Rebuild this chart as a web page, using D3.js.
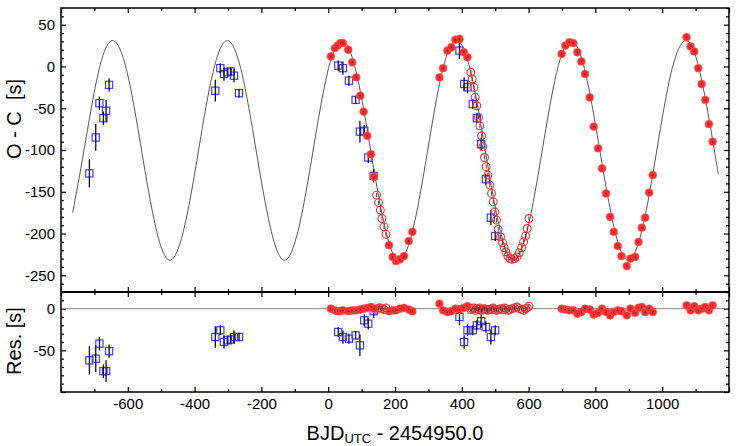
<!DOCTYPE html>
<html>
<head>
<meta charset="UTF-8">
<title>O - C</title>
<script src="https://d3js.org/d3.v7.min.js"></script>
<style>
  * { margin: 0; padding: 0; }
  body { background: #fff; width: 736px; height: 446px; overflow: hidden; }
  text { font-family: 'Liberation Sans', Arial, sans-serif; fill: #000; }
  .tick line { stroke: #000; stroke-width: 1.2; }
  .tick text { font-size: 15px; }
</style>
</head>
<body>
<svg id="chart" width="736" height="446"></svg>
<script>
// 模型曲线
const modelX = [-765, -731, -688, -645, -602, -559, -516, -474, -431, -388, -345, -302, -259, -216, -173, -131, -88, -45, -2, 41,
  84, 127, 170, 212, 255, 298, 341, 384, 427, 470, 513, 555, 598, 641, 684, 727, 770, 813, 856, 898, 941, 984, 1027, 1070, 1113, 1156, 1168];
const modelY = [-175, -100, -7, 31, -7, -100, -193, -232, -193, -100, -7, 31, -7, -100, -193, -232, -193, -100, -7, 31,
  -7, -100, -193, -232, -193, -100, -7, 31, -7, -100, -193, -232, -193, -100, -7, 31, -7, -100, -193, -232, -193, -100, -7, 31, -7, -100, -129];

// 红色实心点
const filledX = [8, 20, 28, 36, 44, 60, 72, 84, 96, 106, 117, 128, 137,
  182, 193, 203, 215, 227, 241, 252,
  333, 344, 357, 369, 381, 393, 406, 417,
  699, 710, 722, 734, 746, 758, 769, 783, 795, 808, 820, 832, 844, 855, 867, 878, 894, 905, 919, 929, 939, 949, 961, 972,
  1073, 1085, 1096, 1108, 1118, 1129, 1140, 1151];
const filledY = [12, 22, 25, 28, 28, 20, 5, -13, -35, -54, -83, -105, -132,
  -214, -228, -233, -231, -227, -209, -198,
  -13, -2, 19, 23, 32, 33, 17, 11,
  15, 25, 29, 28, 17, 6, -9, -37, -72, -98, -122, -152, -180, -198, -215, -227, -239, -230, -228, -210, -193, -181, -151, -130,
  35, 24, 18, -2, -21, -40, -69, -90];
const filledRes = [0, -2, -3, -3, -2, -3, -2, -2, -1, 0, 1, 2, 0,
  -3, -2, -2, 0, 1, -1, -3,
  6, -2, -4, -3, 0, -1, 1, 3,
  0, -1, -2, -2, -6, -4, 0, -1, -7, -5, 0, -4, -8, -4, -2, -3, -8, 0, -5, 1, 2, -4, 0, -4,
  4, -2, 3, -2, 0, 2, -2, 4];

// 红色空心点
const openX = [145, 151, 156, 161, 167, 173,
  427, 431, 436, 440, 445, 450, 454, 459, 463, 468, 473, 478, 484, 489, 494, 499, 504, 509, 516, 522, 527, 532, 538, 544, 551, 558, 565, 572, 579, 585, 591, 596, 601];
const openY = [-154, -163, -172, -182, -192, -201,
  -7, -15, -25, -37, -47, -61, -71, -83, -96, -109, -120, -130, -142, -152, -162, -174, -184, -195, -204, -211, -217, -222, -227, -230, -231, -230, -228, -223, -217, -210, -203, -194, -182];
const openRes = [-1, 1, 1, 0, -1, 1,
  -1, 0, 1, -2, 0, -1, 1, -2, -1, 0, -1, -2, -1, 0, 1, -1, -2, -1, 0, -1, 1, 0, -2, -1, 0, 1, 2, 0, -1, -2, 0, 1, 3];

// 蓝色方块 + 误差棒
const blueX = [-715, -696, -685, -673, -665, -656, -338, -323, -312, -301, -292, -282, -267,
  30, 44, 62, 82, 95, 108, 120, 136, 393, 407, 417, 433, 445, 458, 472, 487, 500];
const blueY = [-128, -85, -44, -62, -53, -22, -29, -2, -9, -7, -6, -11, -32,
  1, -2, -17, -40, -78, -77, -109, -131, 19, -21, -25, -45, -62, -93, -135, -181, -203];
const blueErr = [17, 16, 8, 8, 13, 8, 13, 6, 8, 5, 5, 8, 5,
  6, 8, 6, 5, 13, 7, 7, 8, 10, 8, 7, 6, 6, 8, 7, 9, 6];
const blueRes = [-62, -60, -42, -75, -75, -51, -34, -26, -40, -38, -37, -34, -34,
  -28, -34, -36, -32, -44, -14, -18, -3, -10, -40, -26, -26, -20, -15, -22, -34, -26];

// 刻度
const xMajor = [-800, -600, -400, -200, 0, 200, 400, 600, 800, 1000, 1200];
const xMinor = [-700, -500, -300, -100, 100, 300, 500, 700, 900, 1100];
const xLabels = [-600, -400, -200, 0, 200, 400, 600, 800, 1000];
const yTopLabels = [50, 0, -50, -100, -150, -200, -250];
const yResLabels = [0, -50];

const svg = d3.select('#chart');
const L = 61, R = 729, T = 8, M = 292, B = 392;

const x = d3.scaleLinear().domain([-800, 1200]).range([L, R]);
const yTop = d3.scaleLinear().domain([-270, 70]).range([M, T]);
const yRes = d3.scaleLinear().domain([-100, 20]).range([B, M]);

const red = '#ff2a2a';
const blue = '#3d3dff';

function minorTicks(lo, hi, step, skip) {
  const out = [];
  for (let v = lo; v <= hi; v += step) if (v % skip !== 0) out.push(v);
  return out;
}

// 坐标轴
function drawAxes(y, top, bottom, yMajorVals, yLabelVals, xLabelsOn) {
  const dom = y.domain();
  const yMinorVals = minorTicks(Math.ceil(dom[0] / 10) * 10, dom[1], 10, 50);
  const strip = g => g.select('.domain').remove();

  const fmtX = d => xLabelsOn && xLabels.includes(d) ? d : '';
  svg.append('g').attr('transform', `translate(0,${bottom})`)
    .call(d3.axisBottom(x).tickValues(xMajor).tickSize(-5).tickPadding(6).tickFormat(fmtX)).call(strip);
  svg.append('g').attr('transform', `translate(0,${bottom})`)
    .call(d3.axisBottom(x).tickValues(xMinor).tickSize(-3).tickFormat('')).call(strip);
  svg.append('g').attr('transform', `translate(0,${top})`)
    .call(d3.axisTop(x).tickValues(xMajor).tickSize(-5).tickFormat('')).call(strip);
  svg.append('g').attr('transform', `translate(0,${top})`)
    .call(d3.axisTop(x).tickValues(xMinor).tickSize(-3).tickFormat('')).call(strip);

  svg.append('g').attr('transform', `translate(${L},0)`)
    .call(d3.axisLeft(y).tickValues(yMajorVals).tickSize(-5).tickPadding(6)
      .tickFormat(d => yLabelVals.includes(d) ? d : '')).call(strip);
  svg.append('g').attr('transform', `translate(${L},0)`)
    .call(d3.axisLeft(y).tickValues(yMinorVals).tickSize(-3).tickFormat('')).call(strip);
  svg.append('g').attr('transform', `translate(${R},0)`)
    .call(d3.axisRight(y).tickValues(yMajorVals).tickSize(-5).tickFormat('')).call(strip);
  svg.append('g').attr('transform', `translate(${R},0)`)
    .call(d3.axisRight(y).tickValues(yMinorVals).tickSize(-3).tickFormat('')).call(strip);
}

drawAxes(yTop, T, M, [50, 0, -50, -100, -150, -200, -250], yTopLabels, false);
drawAxes(yRes, M, B, [0, -50, -100], yResLabels, true);

// 数据点
function drawPoints(g, y, useRes) {
  const blues = blueX.map((v, i) => ({ x: v, y: useRes ? blueRes[i] : blueY[i], e: blueErr[i] }));
  const opens = openX.map((v, i) => ({ x: v, y: useRes ? openRes[i] : openY[i] }));
  const filled = filledX.map((v, i) => ({ x: v, y: useRes ? filledRes[i] : filledY[i] }));

  g.selectAll('rect.b').data(blues).enter().append('rect')
    .attr('x', d => x(d.x) - 3.6).attr('y', d => y(d.y) - 3.6)
    .attr('width', 7.2).attr('height', 7.2)
    .attr('fill', 'none').attr('stroke', blue).attr('stroke-width', 1.2);
  g.selectAll('line.be').data(blues).enter().append('line')
    .attr('x1', d => x(d.x)).attr('x2', d => x(d.x))
    .attr('y1', d => y(d.y - d.e)).attr('y2', d => y(d.y + d.e))
    .attr('stroke', '#111').attr('stroke-width', 1.3);

  g.selectAll('circle.o').data(opens).enter().append('circle')
    .attr('cx', d => x(d.x)).attr('cy', d => y(d.y)).attr('r', 3.9)
    .attr('fill', 'none').attr('stroke', red).attr('stroke-width', 1.1);
  g.selectAll('line.oe').data(opens).enter().append('line')
    .attr('x1', d => x(d.x)).attr('x2', d => x(d.x))
    .attr('y1', d => y(d.y - 2.5)).attr('y2', d => y(d.y + 2.5))
    .attr('stroke', '#333').attr('stroke-width', 0.9);

  g.selectAll('circle.f').data(filled).enter().append('circle')
    .attr('cx', d => x(d.x)).attr('cy', d => y(d.y)).attr('r', 3.9)
    .attr('fill', red).attr('stroke', '#ff5a5a').attr('stroke-width', 0.6);
  g.selectAll('circle.fe').data(filled).enter().append('circle')
    .attr('cx', d => x(d.x)).attr('cy', d => y(d.y)).attr('r', 0.7)
    .attr('fill', '#222');
}

// 上图: 模型曲线
const line = d3.line().x((d, i) => x(modelX[i])).y(d => yTop(d)).curve(d3.curveNatural);
svg.append('path').attr('d', line(modelY))
  .attr('fill', 'none').attr('stroke', '#444').attr('stroke-width', 0.9);

drawPoints(svg.append('g'), yTop, false);

// 下图: 残差零线
svg.append('line').attr('x1', L).attr('x2', R).attr('y1', yRes(0)).attr('y2', yRes(0))
  .attr('stroke', '#888').attr('stroke-width', 1);
drawPoints(svg.append('g'), yRes, true);

// 边框
svg.append('rect').attr('x', L).attr('y', T).attr('width', R - L).attr('height', B - T)
  .attr('fill', 'none').attr('stroke', '#000').attr('stroke-width', 1.5);
svg.append('line').attr('x1', L).attr('x2', R).attr('y1', M).attr('y2', M)
  .attr('stroke', '#000').attr('stroke-width', 2.2);

// 轴标题
svg.append('text').attr('transform', 'translate(21,119) rotate(-90)')
  .attr('text-anchor', 'middle').attr('font-size', 20).style('white-space', 'pre').text('O - C  [s]');
svg.append('text').attr('transform', 'translate(21,341) rotate(-90)')
  .attr('text-anchor', 'middle').attr('font-size', 20).text('Res. [s]');

const xt = svg.append('text').attr('x', 395).attr('y', 440).attr('text-anchor', 'middle').attr('font-size', 20);
xt.append('tspan').text('BJD');
xt.append('tspan').attr('font-size', 13).attr('dy', 3).text('UTC');
xt.append('tspan').attr('dy', -3).style('white-space', 'pre').text(' - 2454950.0');
</script>
</body>
</html>
